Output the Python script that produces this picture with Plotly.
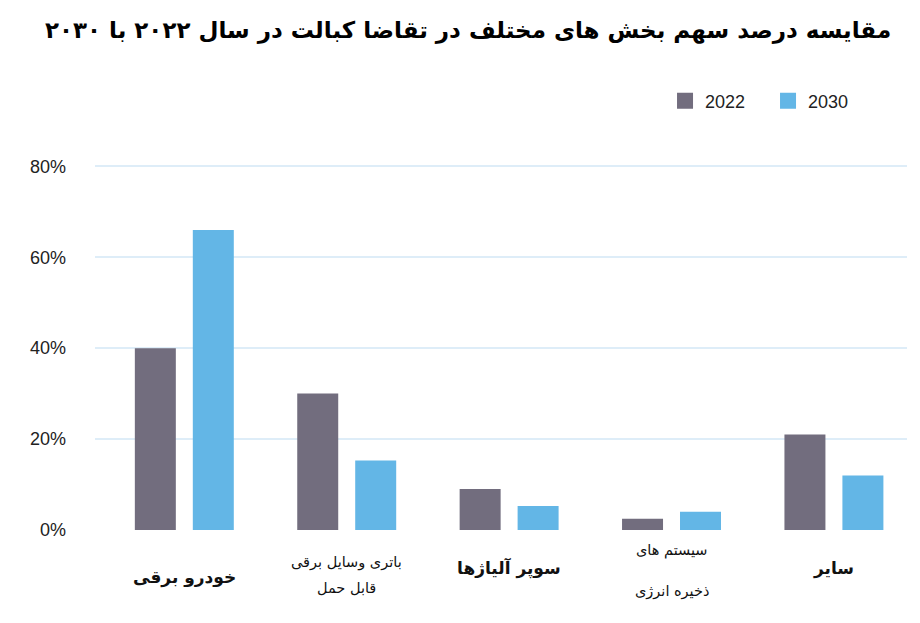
import plotly.graph_objects as go

# دسته‌ها و مقادیر (درصد)
categories = ["خودرو برقی", "باتری وسایل برقی قابل حمل", "سوپر آلیاژها", "سیستم های ذخیره انرژی", "سایر"]
label_lines = [["<b>خودرو برقی</b>"],
               ["باتری وسایل برقی", "قابل حمل"],
               ["<b>سوپر آلیاژها</b>"],
               ["سیستم های", "ذخیره انرژی"],
               ["<b>سایر</b>"]]
label_ys = [[-0.131], [-0.090, -0.158], [-0.104], [-0.057, -0.169], [-0.104]]
label_sizes = [17, 14.5, 17, 14.5, 17]
values_2022 = [40, 30, 9, 2.5, 21]
values_2030 = [66, 15.3, 5.3, 4, 12]
years = ["2022", "2030"]
colors = ["#726d7e", "#63b6e6"]
y_ticks = [0, 20, 40, 60, 80]
y_ticktext = ["0%", "20%", "40%", "60%", "80%"]

fig = go.Figure()
for name, vals, c in zip(years, [values_2022, values_2030], colors):
    fig.add_trace(go.Bar(x=categories, y=vals, name=name, marker_color=c,
                         marker_line_width=0, showlegend=False))
    # فقط برای آیکون بزرگ‌تر در راهنما
    fig.add_trace(go.Scatter(x=[None], y=[None], mode="markers", name=name,
                             marker=dict(symbol="square", size=20, color=c)))

for cat, lines, ys, sz in zip(categories, label_lines, label_ys, label_sizes):
    for line, yy in zip(lines, ys):
        fig.add_annotation(x=cat, y=yy, xref="x", yref="paper", text=line, showarrow=False,
                           yanchor="middle", align="center",
                           font=dict(family="DejaVu Sans", size=sz, color="#111"))

# صفحه با حاشیه 8 پیکسلی مرورگر نمایش داده می‌شود
fig.update_layout(
    width=920, height=623,
    margin=dict(l=87, r=21, t=156, b=101),
    paper_bgcolor="white", plot_bgcolor="white",
    barmode="group", bargap=0.286, bargroupgap=0.293,
    title=dict(text="<b>مقایسه درصد سهم بخش های مختلف در تقاضا کبالت در سال ۲۰۲۲ با ۲۰۳۰</b>",
               x=0.5, xanchor="center", y=0.965, yanchor="middle",
               font=dict(family="DejaVu Sans", size=23, color="#000")),
    legend=dict(orientation="h", x=0.702, xanchor="left", y=1.172, yanchor="middle",
                font=dict(family="Liberation Sans, Arial", size=18, color="#222"),
                itemsizing="trace", traceorder="normal",
                entrywidth=58, entrywidthmode="pixels"),
    font=dict(family="Liberation Sans, Arial"),
)
fig.update_xaxes(range=[-0.55, 4.45], showticklabels=False, showgrid=False,
                 showline=False, zeroline=False)
fig.update_yaxes(range=[0, 80.5], tickvals=y_ticks, ticktext=y_ticktext,
                 showgrid=True, gridcolor="#deedf8", gridwidth=2, zeroline=False,
                 showline=False, ticklabelstandoff=28,
                 tickfont=dict(family="Liberation Sans, Arial", size=18, color="#222"))

fig.write_html("out.html")
